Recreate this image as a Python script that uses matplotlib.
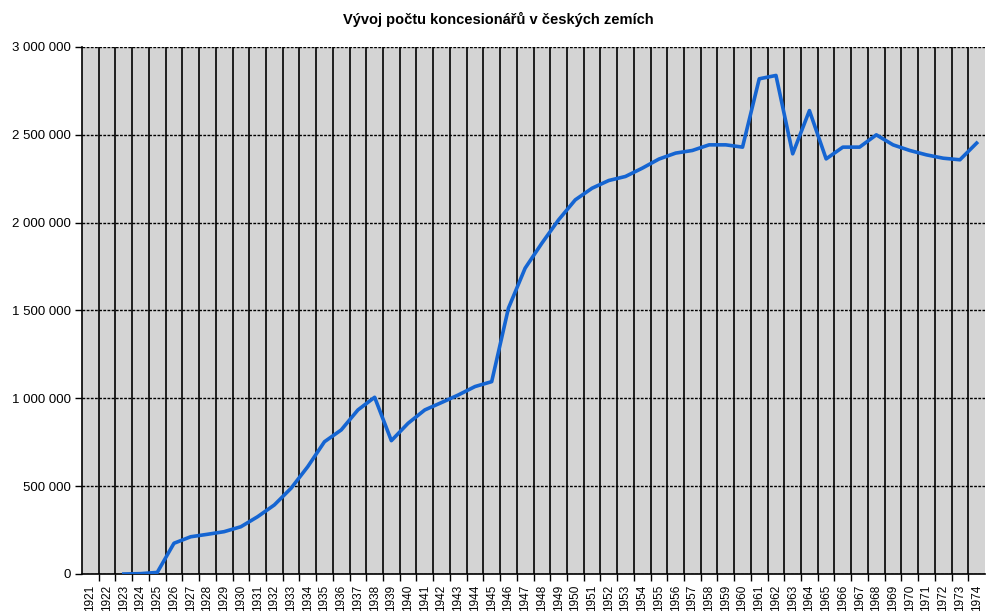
import numpy as np
import matplotlib
matplotlib.use("Agg")
from matplotlib import pyplot as plt
from matplotlib.ticker import FuncFormatter, MultipleLocator

plt.rcParams['font.family'] = ['Liberation Sans', 'DejaVu Sans']

# data
years = list(range(1921, 1975))
koncesionari = [np.nan, np.nan, 0, 2000, 9000, 175000, 212000, 226000, 241000, 269000,
                326000, 393000, 488000, 611000, 753000, 820000, 934000, 1006000, 759000, 858000,
                934000, 976000, 1019000, 1067000, 1095000, 1513000, 1741000, 1883000, 2016000, 2130000,
                2196000, 2240000, 2263000, 2310000, 2362000, 2396000, 2411000, 2443000, 2443000, 2430000,
                2819000, 2838000, 2392000, 2638000, 2363000, 2430000, 2430000, 2500000, 2443000, 2411000,
                2386000, 2367000, 2358000, 2453000]
title = "Vývoj počtu koncesionářů v českých zemích"

fig = plt.figure(figsize=(9.86, 6.12), dpi=100)
ax = fig.add_axes([82/986, 38/612, 903/986, 527/612])
ax.set_facecolor("#d4d4d4")

x = np.arange(len(years))
ax.plot(x, koncesionari, color="#1565d2", lw=2.6, zorder=3)

ax.set_xlim(-0.5, len(years) - 0.5)
ax.set_ylim(0, 3000000)

# category axis: labels in the middle, lines between categories
ax.set_xticks(x)
ax.set_xticklabels([str(y) for y in years], rotation=90, fontsize=8.5)
ax.set_xticks(x[:-1] + 0.5, minor=True)
ax.tick_params(axis="x", which="major", length=0, pad=8)
ax.tick_params(axis="x", which="minor", length=5, width=1, direction="out")
ax.grid(which="minor", axis="x", color="black", lw=1.2, zorder=1)

ax.yaxis.set_major_locator(MultipleLocator(500000))
ax.yaxis.set_major_formatter(FuncFormatter(lambda v, p: f"{int(v):,}".replace(",", " ")))
ax.tick_params(axis="y", length=5, width=1, labelsize=9.5, pad=3)
ax.grid(which="major", axis="y", color="black", lw=1, ls=(0, (2, 1)), zorder=1)

for s in ["top", "right"]:
    ax.spines[s].set_visible(False)
for s in ["left", "bottom"]:
    ax.spines[s].set_color("black")
    ax.spines[s].set_linewidth(1.2)

fig.text(0.505, 0.968, title, ha="center", va="center", fontsize=10.5, fontweight="bold")

fig.savefig("out.png", dpi=100)
